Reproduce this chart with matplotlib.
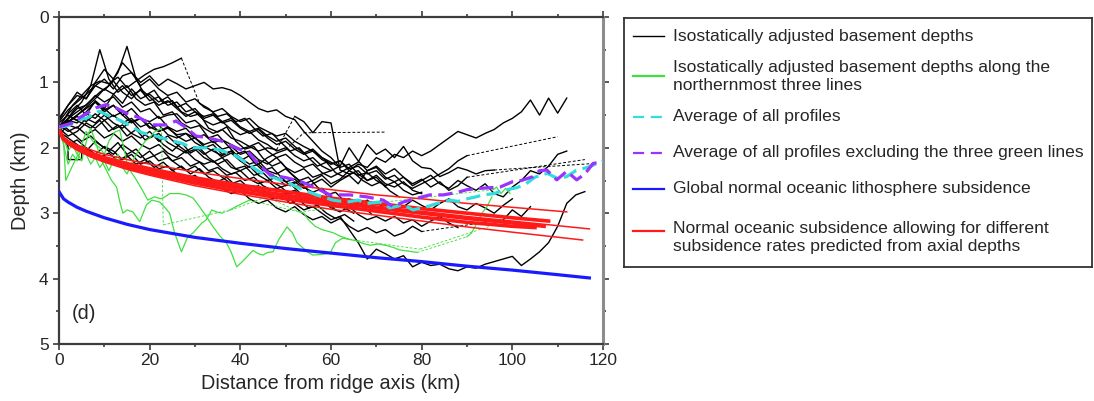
import matplotlib
matplotlib.use("Agg")
import matplotlib.pyplot as plt
from matplotlib.ticker import MultipleLocator

plt.rcParams["font.family"] = ["Liberation Sans", "DejaVu Sans"]

TEXT_COLOR = "#262626"
BLACK = "black"
GREEN = "#40e040"
CYAN = "#33dddd"
PURPLE = "#9933ff"
BLUE = "#1a1aff"
RED = "#ff1a1a"

# black profiles: depth (km) every 2 km from a start distance, None = data gap
STEP_KM = 2
BLACK_STARTS = [1, 1, 1, 0, 0, 0, 0, 0, 0, 0, 0, 0, 0, 0, 0, 0, 0, 1, 0, 1]
BLACK_A = [1.65, 1.45, 1.30, 1.05, 0.50, 0.95, 1.15, 1.05, 1.25, 1.35, 1.30, 1.50, 1.45, 1.62, 1.70, 1.66,
           1.85, 1.80, 1.95, 2.10, 2.05, 2.22, 2.35, 2.30, 2.45, 2.58, 2.50, 2.66, 2.72, 2.85, 2.80, 2.92, 3.00]
BLACK_B = [1.62, 1.50, 1.40, 1.28, 1.15, 1.05, 0.85, 0.45, 0.95, 1.20, 1.12, 1.32, 1.28, 1.45, 1.52, 1.48,
           1.70, 1.76, 1.68, 1.90, 2.02, 1.98, 2.16, 2.28, 2.22, 2.38, 2.50, 2.45, 2.60, 2.72, 2.68, 2.82,
           2.92, 2.88, 3.02]
BLACK_C = [1.58, 1.35, 1.20, 1.05, 0.98, 1.02, 0.92, 1.08, 0.98, 0.88, 0.80, 0.76, 0.70, 0.63, None,
           1.32, 1.40, 1.52, 1.48, 1.60, 1.55, 1.70, 1.82, 1.78, 1.92, 2.05, 2.00, 2.15, 2.28, 2.22, 2.38,
           2.45, 2.38, 2.50, 2.58, 2.52, 2.66, 2.75]
BLACK_D = [1.55, 1.35, 1.20, 1.25, 1.05, 0.95, 1.10, 0.90, 0.85, 1.00, 0.90, 1.05, 0.95, 1.02, 1.10, 1.05,
           1.00, 1.10, 1.08, 1.12, 1.20, 1.30, 1.40, 1.45, 1.42, 1.52, 1.57, 1.75, 1.90, 2.05, 2.15, 2.30,
           2.25, 2.40, 2.50, 2.45, 2.60]
BLACK_E = [1.75, 1.60, 1.50, 1.40, 1.30, 1.45, 1.35, 1.50, 1.40, 1.55, 1.60, 1.52, 1.68, 1.75, 1.70, 1.85,
           1.80, 1.92, 1.88, 1.95, 2.02, 1.98, 2.05, 2.00, 2.03, None, 1.52, 1.60, 1.77, 1.60, 1.62, 2.34,
           2.40, 2.35, 2.50, 2.42, 2.55, 2.60, 2.52, 2.65, 2.70]
BLACK_F = [1.70, 1.82, 1.75, 1.62, 1.70, 1.58, 1.72, 1.65, 1.78, 1.85, 1.75, 1.90, 1.82, 1.95, 2.05, 1.98,
           2.10, 2.02, 2.15, 2.08, 2.20, 2.12, 2.25, 2.15, 2.08, 2.03, None, 1.77, None, None, None, None,
           None, None, None, None, 1.76]
BLACK_G = [1.70, 1.58, 1.62, 1.48, 1.55, 1.40, 1.52, 1.45, 1.60, 1.55, 1.70, 1.65, 1.80, 1.85, 1.78, 1.92,
           2.00, 1.95, 2.10, 2.05, 2.15, 2.25, 2.20, 2.35, 2.40, 2.32, 2.45, 2.55, 2.50, 2.42, 2.55, 2.48,
           2.35, 2.25, 2.30, 2.15, 2.22, 2.10, 2.15, 2.05, 2.12, 2.05, 1.95, 1.85, 1.75, 1.80, 1.85, 1.78,
           1.72, 1.62, 1.55, 1.45, 1.27, 1.50, 1.24, 1.47, 1.24]
BLACK_H = [1.80, 1.65, 1.70, 1.55, 1.62, 1.50, 1.62, 1.70, 1.58, 1.75, 1.85, 1.78, 1.92, 2.00, 2.08, 2.02,
           2.15, 2.22, 2.15, 2.30, 2.35, 2.28, 2.42, 2.50, 2.45, 2.58, 2.52, 2.62, 2.55, 2.48, 2.60, 2.50,
           2.42, 2.55, 2.35, 2.28, 2.40, 2.32, 2.45, 2.55, 2.48, 2.60, 2.52, 2.65, 2.58, 2.45, None, None,
           None, None, None, None, None, None, None, None, None, None, 2.18]
BLACK_I = [1.75, 1.85, 1.95, 2.05, 1.90, 2.00, 2.10, 1.95, 2.05, 2.15, 2.05, 2.20, 2.15, 2.25, 2.35, 2.28,
           2.40, 2.35, 2.45, 2.55, 2.50, 2.62, 2.58, 2.70, 2.78, 2.72, 2.85, 2.95, 2.90, 3.00, 3.10, 3.05,
           3.25, 3.45, 3.70, 3.55, 3.62, 3.70, 3.65, 3.82, 3.75, 3.80, 3.78, 3.85, 3.88, 3.82, 3.84, 3.78,
           3.74, 3.70, 3.66, 3.80, 3.70, 3.59, 3.45, 3.20, 2.85, 2.72, 2.67]
BLACK_J = [1.68, 1.55, 1.40, 1.35, 1.20, 1.30, 1.22, 1.38, 1.30, 1.45, 1.40, 1.55, 1.50, 1.48, 1.62, 1.58,
           1.70, 1.78, 1.72, 1.85, 1.90, 1.98, 1.92, 2.05, 2.15, 2.10, 2.22, 2.30, 2.25, 2.38, 2.45, 2.38,
           2.30, 2.22, 1.95, 2.10, 2.02, 2.15, 1.98, 2.20, 2.30, 2.32, 2.44, 2.38, 2.30, 2.34, 2.40, 2.35,
           2.34, None, None, None, None, None, None, None, None, None, None, 2.24]
BLACK_K = [1.62, 1.50, 1.58, 1.45, 1.30, 1.42, 1.35, 1.50, 1.62, 1.55, 1.68, 1.75, 1.68, 1.82, 1.90, 1.85,
           1.98, 2.05, 2.12, 2.05, 2.20, 2.30, 2.25, 2.38, 2.45, 2.52, 2.48, 2.60, 2.68, 2.62, 2.75, 2.82,
           2.78, 2.88, 2.80, 2.92, 2.85, 2.95, 2.90, 2.80, 2.88, 2.95, 2.85, 2.78, 2.90, 2.95, 2.85, 2.92,
           3.00, 2.88, 2.78]
BLACK_L = [1.78, 1.95, 1.88, 2.00, 2.10, 1.98, 2.05, 2.18, 2.10, 2.25, 2.20, 2.32, 2.28, 2.40, 2.48, 2.42,
           2.55, 2.50, 2.62, 2.70, 2.65, 2.78, 2.85, 2.80, 2.92, 2.98, 2.90, 3.02, 3.10, 3.05, 3.15, 3.08,
           3.20, 3.28, 3.22, 3.30, 3.25, 3.35, 3.30, 3.20, 3.28, None, None, None, None, None, None, None,
           None, 3.10, 2.95, 3.05, 2.90]
BLACK_M = [1.72, 1.62, 1.50, 1.38, 1.25, 1.10, 1.18, 1.05, 1.20, 1.12, 1.28, 1.22, 1.35, 1.30, 1.45, 1.40,
           1.55, 1.50, 1.62, 1.58, 1.70, 1.78, 1.72, 1.85, 1.95, 1.90, 2.02, 2.10, 2.05, 2.18, 2.25, 2.20,
           2.32, 2.28, 2.40, 2.35, 2.48, 2.42, 2.55, 2.62, 2.55, 2.48, 2.40, 2.32, 2.20, 2.12, None, None,
           None, None, None, None, None, None, None, 1.83]
BLACK_N = [1.58, 1.35, 1.15, 1.25, 1.00, 0.80, 0.95, 0.70, 0.85, 1.05, 0.95, 1.10, 1.20, 1.15, 1.30, 1.25,
           1.38, 1.45, 1.40, 1.52, 1.60, 1.55, 1.68, 1.75, 1.82, 1.78, 1.90, 1.98, 2.05, 2.15, 2.22, 2.30]
BLACK_O = [1.65, 1.75, 1.68, 1.80, 1.72, 1.85, 1.78, 1.90, 1.82, 1.95, 2.02, 1.95, 2.08, 2.15, 2.05, 2.18,
           2.25, 2.20, 2.32, 2.40, 2.35, 2.48, 2.55, 2.50, 2.62, 2.70, 2.65, 2.78, 2.85, 2.80, 2.92, 2.98,
           2.90, 3.02, 3.10, 3.05, 3.12, 3.05, 3.15, 3.10, 3.20, 3.12, 3.05, 3.15, 3.22]
BLACK_P = [1.72, 1.60, 1.52, 1.60, 1.48, 1.58, 1.50, 1.62, 1.55, 1.68, 1.62, 1.75, 1.70, 1.80, 1.78, 1.85,
           1.95, 1.90, 2.02, 1.98, 2.10, 2.05, 2.18, 2.25, 2.15, 2.30, 2.38, 2.32, 2.45, 2.40, 2.35, 2.28,
           2.00, 2.20, 2.35, 2.30, 2.45, 2.52, 2.45, 2.58, 2.50, 2.42, 2.55, 2.62, 2.50, 2.58, 2.65, 2.55,
           2.70, 2.75, 2.60, 2.50, 2.35, 2.40, 2.28, 2.10, 2.05]
BLACK_Q = [1.60, 1.42, 1.30, 1.18, 1.05, 1.12, 0.98, 1.15, 1.25, 1.10, 1.22, 1.35, 1.28, 1.40, 1.52, 1.45,
           1.58, 1.65, 1.60, 1.72, 1.80, 1.75, 1.88, 1.95, 2.05, 2.00, 2.12, 2.20, 2.15, 2.28, 2.35]
BLACK_R = [1.70, 1.55, 1.62, 1.70, 1.58, 1.75, 1.65, 1.82, 1.72, 1.88, 1.80, 1.95, 2.05, 1.92, 2.08, 2.00,
           2.15, 2.25, 2.18, 2.32, 2.28, 2.42, 2.38, 2.52, 2.60, 2.55, 2.68]
BLACK_S = [1.68, 1.48, 1.35, 1.50, 1.28, 1.40, 1.18, 1.32, 1.10, 1.25, 1.18, 1.30, 1.22, 1.38, 1.32, 1.45,
           1.52, 1.48, 1.60, 1.55, 1.68, 1.75, 1.70, 1.82, 1.90, 1.85, 1.98, 2.08, 2.02, 2.15, 2.25, 2.20,
           2.35, 2.42, 2.38, 2.50, 2.58, 2.52, 2.65, 2.72, 2.68]
BLACK_T = [1.66, 1.78, 1.90, 1.82, 1.95, 2.05, 1.92, 2.10, 2.02, 2.18, 2.12, 2.05, 2.20, 2.15, 2.28, 2.22,
           2.35, 2.30, 2.42, 2.38, 2.50, 2.45, 2.58, 2.65, 2.60, 2.72, 2.80, 2.75, 2.88, 2.82, 2.95]
BLACK_PROFILES = [BLACK_A, BLACK_B, BLACK_C, BLACK_D, BLACK_E, BLACK_F, BLACK_G, BLACK_H, BLACK_I, BLACK_J,
                  BLACK_K, BLACK_L, BLACK_M, BLACK_N, BLACK_O, BLACK_P, BLACK_Q, BLACK_R, BLACK_S, BLACK_T]

# profile with the small box step near the ridge axis
BOX_PROFILE_X = [0, 1, 2, 2, 5, 5, 7, 9, 11, 13, 15, 17, 19, 21, 23, 25, 27, 29, 31, 33, 35, 37, 39, 41,
                 43, 45, 47, 49, 51, 53, 55, 57, 59, 61, 63, 65]
BOX_PROFILE_D = [1.75, 1.85, 1.98, 2.18, 2.18, 1.98, 2.05, 2.15, 2.08, 2.20, 2.12, 2.25, 2.18, 2.30, 2.22,
                 2.35, 2.28, 2.40, 2.32, 2.45, 2.52, 2.45, 2.58, 2.65, 2.58, 2.70, 2.78, 2.72, 2.85, 2.80,
                 2.92, 2.88, 3.00, 3.08, 3.02, 3.12]

# the northernmost three lines (green)
GREEN_1_X = [0, 1, 1.5, 2.8, 3.5, 4.2, 5, 6.4, 7, 8, 9.4, 10.5, 11.6, 12.7, 13.5, 14.1, 15, 16.3, 17.8,
             19.3, 20.5, 22.2, 23.2, 24.4, 25.5, 27, 28.4, 29.6, 31.5, 32.5, 33.7, 34.7, 36, None, 45.8,
             None, 53, None, 95.8, 96.5, 97.5, 98.5, 99.5]
GREEN_1_D = [1.72, 1.9, 2.5, 2.3, 2.2, 2.1, 2.2, 1.8, 1.7, 1.9, 2.2, 2.35, 2.5, 2.6, 2.85, 3.0, 2.95, 2.98,
             3.13, 2.87, 2.8, 2.83, 2.9, 3.0, 3.3, 3.59, 3.36, 3.3, 3.15, 3.1, 2.95, 2.98, 3.0, None, 2.75,
             None, 2.98, None, 2.64, 2.6, 2.7, 2.62, 2.7]
GREEN_2_X = [0, 1, 2, 3, 4, 5, 6, 7, 8, 9, 10, 11, 12.3, 13.4, 14.3, 15.2, 16.7, 18, 19.6, 21, 22.5, 23.4,
             24.4, 26.5, 28, 29.6, 31, 32.5, 34, 35.5, 37, 38, 39.2, 40.3, 41.4, 42.8, 44, 45, 46, 47.2,
             48.5, 50.3, 51.5, 52.5, 53.8, 55, 56, 58, 59.8, 61, 62.6, 64, 65.5, 67, 68.6, 70.5, 72.6, 74,
             75, 77, 79, None, 90, 91, 92.2, 93.3, 94.4, 95.5]
GREEN_2_D = [1.72, 1.85, 2.05, 1.95, 2.1, 1.95, 1.75, 1.85, 1.95, 2.0, 2.1, 1.9, 1.76, 1.73, 2.0, 2.3,
             2.45, 2.6, 2.8, 2.75, 2.78, 2.75, 2.7, 2.7, 2.72, 2.77, 2.9, 3.05, 3.21, 3.35, 3.46, 3.6, 3.82,
             3.75, 3.67, 3.57, 3.62, 3.64, 3.6, 3.59, 3.4, 3.21, 3.3, 3.45, 3.53, 3.6, 3.64, 3.63, 3.61,
             3.45, 3.38, 3.4, 3.42, 3.46, 3.49, 3.47, 3.5, 3.53, 3.56, 3.58, 3.6, None, 3.36, 3.3, 3.15,
             3.0, 2.9, 2.75]
GREEN_3_X = [0, 1, 2, 3, 4, 5, 6, 7, 8, 9, 10, 11, 12, 13, 14, 15, 16, 17, 18, 19, 20, 21, 22.6, None,
             23, None, 37.7, 39, 40.5, 42, None, 53, 54, 55, 56.5, 58, 60.5, 62, 64, None, 79.6, None, 95]
GREEN_3_D = [1.72, 1.95, 2.25, 2.1, 2.2, 2.0, 2.1, 2.25, 2.15, 2.3, 2.2, 2.35, 2.2, 2.1, 2.3, 2.4, 2.25,
             2.1, 2.0, 1.9, 1.85, 1.76, 1.7, None, 3.18, None, 2.95, 2.9, 2.85, 2.8, None, 2.98, 3.0, 3.1,
             3.2, 3.25, 3.3, 3.35, 3.4, None, 3.55, None, 3.2]

# averages
CYAN_X = [0, 2, 4.4, 6, 7.3, 8.8, 11, 13.2, 15.4, 18.3, 21.3, 24.2, 27.1, 29.3, 32.4, 35.3, 39, 41.9,
          44.3, 46, 48.7, 51, 53.1, 56.8, 60.4, 63.5, 66, 67.9, 70.8, 73, 75.9, 78.1, 81.2, 83.4, 86.3,
          88, 90, 92, 93.6, 96, 98, 101, 103, 105, 107.7, 110, 112, 114, 117, 120]
CYAN_D = [1.69, 1.66, 1.57, 1.55, 1.50, 1.44, 1.51, 1.57, 1.65, 1.77, 1.82, 1.88, 1.93, 2.00, 2.00, 2.03,
          2.12, 2.26, 2.37, 2.42, 2.49, 2.55, 2.62, 2.72, 2.80, 2.83, 2.80, 2.85, 2.83, 2.92, 2.87, 2.95,
          2.90, 2.85, 2.80, 2.82, 2.78, 2.75, 2.72, 2.70, 2.65, 2.61, 2.55, 2.45, 2.39, 2.47, 2.44, 2.35,
          2.29, 2.20]
PURPLE_X = [0, 2.9, 5, 8.1, 10.4, 12.6, 14.8, 17.7, 20.6, 23.6, 25.8, 28, 30.2, 33.1, 36, 39, 41.9, 44,
            46.5, 50.3, 53.5, 56.8, 59.8, 64.2, 67.9, 71.5, 73.7, 75.9, 78.5, 81.8, 84.8, 88, 90, 93, 97.3,
            100, 102, 104.6, 106, 107.6, 109.8, 112, 114.2, 116, 117.8, 120]
PURPLE_D = [1.68, 1.62, 1.52, 1.39, 1.34, 1.39, 1.47, 1.54, 1.65, 1.65, 1.59, 1.69, 1.82, 1.85, 1.90,
            2.00, 2.08, 2.25, 2.41, 2.46, 2.52, 2.62, 2.72, 2.72, 2.75, 2.80, 2.90, 2.83, 2.78, 2.72, 2.72,
            2.68, 2.64, 2.62, 2.60, 2.52, 2.50, 2.44, 2.35, 2.34, 2.49, 2.36, 2.49, 2.40, 2.24, 2.21]

# global normal oceanic subsidence
BLUE_X = [0, 1, 2, 4, 6, 10, 15, 20, 30, 40, 50, 60, 70, 80, 90, 100, 110, 117]
BLUE_D = [2.67, 2.78, 2.83, 2.91, 2.97, 3.07, 3.17, 3.25, 3.37, 3.46, 3.54, 3.61, 3.68, 3.74, 3.81, 3.87,
          3.94, 3.99]

# subsidence curves from axial depths (last point is the end of each curve)
RED_X = [0, 1, 2, 4, 7, 10, 15, 20, 30, 40, 50, 60, 70, 80, 90, 100]
RED_END_X = [112, 108, 107, 117, 115.5, 105]
RED_THICK = [False, True, True, False, False, True]
RED_A = [1.72, 1.84, 1.89, 1.96, 2.03, 2.10, 2.18, 2.25, 2.37, 2.47, 2.56, 2.64, 2.72, 2.78, 2.85, 2.91, 2.98]
RED_B = [1.72, 1.86, 1.91, 1.99, 2.08, 2.15, 2.24, 2.32, 2.46, 2.57, 2.67, 2.77, 2.85, 2.93, 3.00, 3.07, 3.12]
RED_C = [1.72, 1.86, 1.92, 2.01, 2.10, 2.17, 2.27, 2.36, 2.50, 2.62, 2.73, 2.83, 2.92, 3.00, 3.08, 3.15, 3.20]
RED_D = [1.72, 1.86, 1.92, 2.00, 2.09, 2.16, 2.26, 2.35, 2.49, 2.61, 2.71, 2.80, 2.89, 2.97, 3.05, 3.12, 3.24]
RED_E = [1.72, 1.88, 1.94, 2.03, 2.14, 2.22, 2.33, 2.42, 2.58, 2.71, 2.83, 2.94, 3.03, 3.12, 3.21, 3.29, 3.41]
RED_F = [1.72, 1.87, 1.93, 2.02, 2.12, 2.19, 2.30, 2.39, 2.54, 2.67, 2.78, 2.88, 2.97, 3.06, 3.14, 3.20, 3.22]
RED_CURVES = [RED_A, RED_B, RED_C, RED_D, RED_E, RED_F]

LEGEND_LABELS = [
    "Isostatically adjusted basement depths",
    "Isostatically adjusted basement depths along the\nnorthernmost three lines",
    "Average of all profiles",
    "Average of all profiles excluding the three green lines",
    "Global normal oceanic lithosphere subsidence",
    "Normal oceanic subsidence allowing for different\nsubsidence rates predicted from axial depths",
]


def split_runs(xs, ds):
    runs, current = [], []
    for x, d in zip(xs, ds):
        if d is None:
            if current:
                runs.append(current)
            current = []
        else:
            current.append((x, d))
    if current:
        runs.append(current)
    return runs


def draw_track(ax, xs, ds, color, lw, zorder):
    runs = split_runs(xs, ds)
    for run in runs:
        if len(run) > 1:
            rx, rd = zip(*run)
            ax.plot(rx, rd, color=color, lw=lw, zorder=zorder)
    # gaps in the data are bridged by thin dashed lines
    for left, right in zip(runs[:-1], runs[1:]):
        ax.plot([left[-1][0], right[0][0]], [left[-1][1], right[0][1]], color=color,
                lw=lw * 0.7, ls=(0, (3, 2)), zorder=zorder)


fig = plt.figure(figsize=(10.94, 4.01), dpi=100)
ax = fig.add_axes([59 / 1094, 57 / 401, 544 / 1094, 327 / 401])

for start, depths in zip(BLACK_STARTS, BLACK_PROFILES):
    xs = [start + STEP_KM * i for i in range(len(depths))]
    draw_track(ax, xs, depths, BLACK, 1.0, 2)
draw_track(ax, BOX_PROFILE_X, BOX_PROFILE_D, BLACK, 1.0, 2)

for gx, gd in [(GREEN_1_X, GREEN_1_D), (GREEN_2_X, GREEN_2_D), (GREEN_3_X, GREEN_3_D)]:
    draw_track(ax, gx, gd, GREEN, 0.9, 3)

for depths, end_x, thick in zip(RED_CURVES, RED_END_X, RED_THICK):
    ax.plot(RED_X + [end_x], depths, color=RED, lw=2.6 if thick else 1.1, zorder=4)

ax.plot(BLUE_X, BLUE_D, color=BLUE, lw=2.3, zorder=5)
ax.plot(CYAN_X, CYAN_D, color=CYAN, lw=2.3, dashes=(4.5, 2), zorder=6)
ax.plot(PURPLE_X, PURPLE_D, color=PURPLE, lw=2.3, dashes=(4.5, 2), zorder=7)

ax.set_xlim(0, 120)
ax.set_ylim(5, 0)
ax.xaxis.set_major_locator(MultipleLocator(20))
ax.xaxis.set_minor_locator(MultipleLocator(10))
ax.yaxis.set_major_locator(MultipleLocator(1))
ax.yaxis.set_minor_locator(MultipleLocator(0.5))
ax.tick_params(which="both", direction="out", top=True, right=True, colors="#3c3c3c",
               labelcolor=TEXT_COLOR, labelsize=12.5, width=1.2)
ax.tick_params(which="major", length=4.5)
ax.tick_params(which="minor", length=2.5)
ax.tick_params(axis="x", pad=2)
ax.tick_params(axis="y", pad=3)
for side in ["left", "bottom", "top"]:
    ax.spines[side].set_color("#3c3c3c")
    ax.spines[side].set_linewidth(1.6)
ax.spines["right"].set_color("#8c8c8c")
ax.spines["right"].set_linewidth(2.2)

ax.set_xlabel("Distance from ridge axis (km)", fontsize=14.3, color=TEXT_COLOR, labelpad=4)
ax.set_ylabel("Depth (km)", fontsize=14.3, color=TEXT_COLOR, labelpad=6)
ax.text(2.8, 4.53, "(d)", fontsize=14.3, color=TEXT_COLOR, va="center")

# legend drawn in its own pixel-scaled box
lg = fig.add_axes([624 / 1094, (401 - 267) / 401, 468 / 1094, 249 / 401])
lg.set_xlim(624, 1092)
lg.set_ylim(267, 18)
lg.set_xticks([])
lg.set_yticks([])
for spine in lg.spines.values():
    spine.set_color("#333333")
    spine.set_linewidth(1.3)

handle_y = [36, 76, 117, 153, 189, 231]
text_y = [36, 76.5, 117, 153, 189, 237.5]
handle_styles = [
    dict(color=BLACK, lw=1.0),
    dict(color=GREEN, lw=1.6),
    dict(color=CYAN, lw=1.6, dashes=(5, 3)),
    dict(color=PURPLE, lw=1.6, dashes=(5, 3)),
    dict(color=BLUE, lw=1.6),
    dict(color=RED, lw=1.6),
]
for label, hy, ty, style in zip(LEGEND_LABELS, handle_y, text_y, handle_styles):
    lg.plot([633, 664], [hy, hy], **style)
    lg.text(673, ty, label, fontsize=12.6, color=TEXT_COLOR, va="center", ha="left",
            linespacing=1.28, clip_on=False)

fig.savefig("out.png", dpi=100)
